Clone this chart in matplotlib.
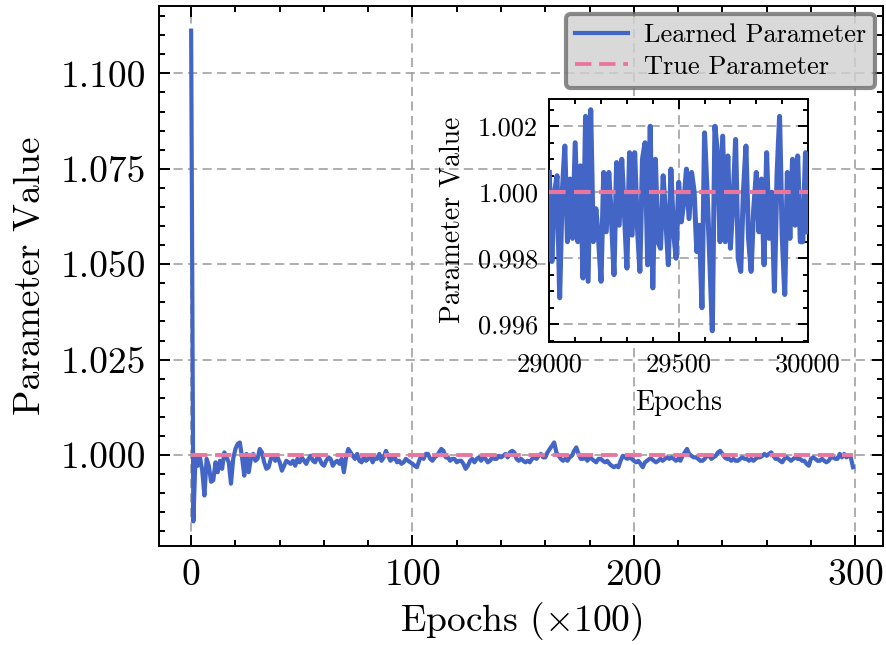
import numpy as np
import matplotlib
matplotlib.use("Agg")
import matplotlib.pyplot as plt
from matplotlib.ticker import MultipleLocator, FormatStrFormatter

# main series: learned parameter, one point every 100 epochs (x in units of 100)
learned_main = [
    1.1112, 0.9826, 0.9998, 0.9972, 0.9994, 0.9960, 0.9894, 0.9990, 0.9972, 0.9930,
    0.9934, 0.9981, 0.9955, 0.9985, 0.9964, 1.0007, 0.9994, 0.9981, 0.9925, 0.9990,
    1.0016, 1.0029, 1.0033, 0.9994, 0.9946, 1.0003, 0.9955, 0.9990, 1.0003, 0.9985,
    0.9990, 1.0016, 1.0007, 0.9981, 0.9964, 0.9968, 0.9990, 0.9998, 0.9985, 0.9994,
    0.9981, 0.9959, 0.9972, 0.9985, 0.9981, 0.9977, 0.9985, 0.9972, 0.9990, 0.9981,
    0.9994, 0.9985, 0.9977, 0.9990, 0.9998, 0.9985, 0.9981, 0.9994, 0.9990, 0.9977,
    0.9972, 0.9985, 0.9994, 0.9990, 0.9972, 0.9981, 0.9985, 0.9977, 0.9990, 0.9955,
    0.9994, 1.0016, 1.0007, 0.9998, 0.9990, 1.0003, 0.9985, 0.9981, 0.9994, 0.9985,
    0.9990, 0.9998, 0.9981, 0.9994, 0.9990, 1.0003, 0.9985, 0.9994, 1.0011, 0.9998,
    0.9985, 0.9990, 0.9994, 0.9981, 0.9985, 0.9977, 0.9981, 0.9990, 0.9985, 0.9981,
    0.9977, 0.9972, 0.9968, 0.9985, 0.9998, 0.9990, 1.0003, 1.0003, 0.9990, 0.9985,
    0.9994, 0.9998, 1.0007, 1.0016, 1.0011, 0.9994, 0.9994, 0.9985, 0.9990, 0.9990,
    0.9981, 0.9985, 0.9985, 0.9977, 0.9964, 0.9972, 0.9985, 0.9990, 0.9981, 0.9990,
    0.9994, 0.9985, 0.9994, 0.9990, 0.9981, 0.9985, 0.9994, 0.9990, 0.9990, 0.9998,
    0.9994, 0.9998, 1.0003, 0.9994, 1.0007, 1.0011, 1.0007, 0.9990, 0.9985, 0.9990,
    0.9985, 0.9981, 0.9985, 0.9981, 0.9990, 0.9994, 0.9990, 0.9998, 1.0003, 0.9994,
    0.9994, 1.0007, 1.0016, 1.0024, 1.0033, 1.0007, 0.9998, 0.9990, 0.9985, 0.9990,
    0.9985, 0.9994, 0.9998, 1.0011, 1.0020, 1.0003, 0.9990, 0.9990, 0.9994, 0.9985,
    0.9994, 0.9990, 0.9985, 0.9981, 0.9990, 0.9990, 0.9985, 0.9981, 0.9985, 0.9977,
    0.9972, 0.9968, 0.9972, 0.9968, 0.9985, 0.9998, 0.9994, 0.9990, 0.9994, 0.9990,
    0.9985, 0.9981, 0.9985, 0.9977, 0.9968, 0.9981, 0.9985, 0.9990, 0.9990, 0.9985,
    0.9981, 0.9985, 0.9990, 0.9985, 0.9990, 0.9994, 0.9990, 0.9994, 0.9990, 0.9985,
    0.9990, 0.9985, 0.9998, 1.0007, 1.0016, 1.0003, 0.9998, 0.9994, 0.9994, 0.9990,
    0.9985, 0.9985, 0.9990, 0.9998, 0.9998, 0.9990, 0.9994, 0.9998, 1.0007, 1.0011,
    1.0003, 0.9994, 0.9990, 0.9990, 0.9985, 0.9990, 0.9985, 0.9985, 0.9990, 0.9994,
    0.9990, 0.9990, 0.9985, 0.9990, 0.9985, 0.9990, 0.9994, 0.9994, 0.9998, 1.0003,
    0.9998, 1.0003, 1.0007, 0.9998, 0.9990, 0.9990, 0.9985, 0.9981, 0.9990, 0.9994,
    0.9990, 0.9985, 0.9990, 0.9994, 0.9990, 0.9990, 0.9985, 0.9985, 0.9977, 0.9972,
    0.9990, 0.9994, 0.9990, 0.9985, 0.9985, 0.9990, 0.9985, 0.9981, 0.9985, 0.9994,
    0.9994, 0.9990, 0.9990, 1.0003, 0.9994, 1.0003, 0.9994, 0.9998, 0.9994, 0.9968,
]
epochs_main = np.arange(len(learned_main))  # x100 epochs

# inset: last 1000 epochs, one point every 10 epochs
epochs_inset = np.arange(29000, 30001, 10)
learned_inset = [
    1.0006, 0.9979, 1.0000, 1.0005, 0.9968, 1.0000, 1.0014, 0.9985, 1.0004, 0.9986,
    1.0015, 0.9985, 1.0008, 0.9974, 1.0023, 0.9973, 1.0025, 0.9985, 0.9995, 0.9986,
    0.9973, 1.0006, 0.9988, 1.0006, 0.9992, 0.9975, 1.0009, 0.9990, 1.0010, 0.9994,
    0.9977, 1.0012, 0.9987, 1.0012, 0.9990, 0.9976, 1.0010, 1.0015, 0.9978, 1.0020,
    0.9971, 1.0010, 0.9985, 0.9983, 1.0005, 0.9992, 0.9978, 1.0007, 0.9988, 0.9980,
    1.0003, 0.9991, 0.9997, 1.0007, 0.9992, 1.0006, 1.0000, 0.9982, 0.9990, 0.9965,
    1.0018, 1.0000, 0.9980, 0.9958, 1.0020, 1.0012, 0.9985, 1.0017, 0.9985, 1.0011,
    0.9983, 0.9997, 1.0016, 0.9980, 0.9976, 1.0000, 1.0014, 0.9986, 0.9976, 0.9995,
    1.0006, 0.9988, 1.0004, 0.9978, 1.0012, 0.9986, 1.0000, 0.9970, 1.0005, 1.0023,
    0.9987, 0.9969, 1.0006, 0.9986, 1.0010, 0.9990, 1.0011, 0.9985, 0.9985, 1.0012,
    0.9988,
]
true_value = 1.0

blue = '#4365C5'
pink = '#E8769F'

plt.rcParams['font.family'] = 'serif'
plt.rcParams['font.serif'] = ['cmr10']
plt.rcParams['mathtext.fontset'] = 'cm'
plt.rcParams['axes.formatter.use_mathtext'] = True
plt.rcParams['axes.unicode_minus'] = False

fig = plt.figure(figsize=(8.86, 6.45), dpi=100)
ax = fig.add_axes([0.1795, 0.1535, 0.817, 0.837])

ax.plot(epochs_main, learned_main, color=blue, lw=3.0, label='Learned Parameter', zorder=3)
ax.plot(epochs_main, [true_value] * len(epochs_main), color=pink, lw=2.8,
        ls=(0, (4.2, 2.0)), label='True Parameter', zorder=4)

ax.set_xlim(-14.5, 312.5)
ax.xaxis.set_major_locator(MultipleLocator(100))
ax.xaxis.set_minor_locator(MultipleLocator(20))
ax.yaxis.set_major_locator(MultipleLocator(0.025))
ax.yaxis.set_minor_locator(MultipleLocator(0.005))
ax.yaxis.set_major_formatter(FormatStrFormatter('%.3f'))
ax.tick_params(which='both', direction='in', top=True, right=True, labelsize=27, width=1.4)
ax.tick_params(which='major', length=8, pad=9)
ax.tick_params(which='minor', length=4)
for s in ax.spines.values():
    s.set_linewidth(1.4)
ax.grid(True, which='major', ls='--', color='#999999', lw=1.1, dashes=(6, 3.5))
ax.set_xlabel(r'Epochs ($\times$100)', fontsize=27, labelpad=6)
ax.set_ylabel('Parameter Value', fontsize=27, labelpad=10)

leg = ax.legend(loc='upper right', fontsize=19, fancybox=True, frameon=True,
                facecolor='#d0d0d0', edgecolor='#6e6e6e', framealpha=0.8,
                borderaxespad=0.3, handlelength=2.0, borderpad=0.35,
                labelspacing=0.3, handletextpad=0.6)
leg.get_frame().set_linewidth(3.0)

# inset
axin = fig.add_axes([0.62, 0.47, 0.292, 0.377])
axin.plot(epochs_inset, learned_inset, color=blue, lw=3.6, zorder=3)
axin.plot(epochs_inset, [true_value] * len(epochs_inset), color=pink, lw=3.0,
          ls=(0, (4, 2)), zorder=4)
axin.set_xlim(29000, 30000)
axin.xaxis.set_major_locator(MultipleLocator(500))
axin.xaxis.set_minor_locator(MultipleLocator(100))
axin.yaxis.set_major_locator(MultipleLocator(0.002))
axin.yaxis.set_minor_locator(MultipleLocator(0.0005))
axin.yaxis.set_major_formatter(FormatStrFormatter('%.3f'))
axin.xaxis.set_major_formatter(FormatStrFormatter('%d'))
axin.tick_params(which='both', direction='in', top=True, right=True, labelsize=19, width=1.4)
axin.tick_params(which='major', length=7, pad=8)
axin.tick_params(which='minor', length=3.5)
for s in axin.spines.values():
    s.set_linewidth(1.4)
axin.grid(True, which='major', ls='--', color='#999999', lw=1.1, dashes=(6, 3.5))
axin.set_xlabel('Epochs', fontsize=20, labelpad=9)
axin.set_ylabel('Parameter Value', fontsize=20, labelpad=9)

fig.savefig('out.png', dpi=100)
